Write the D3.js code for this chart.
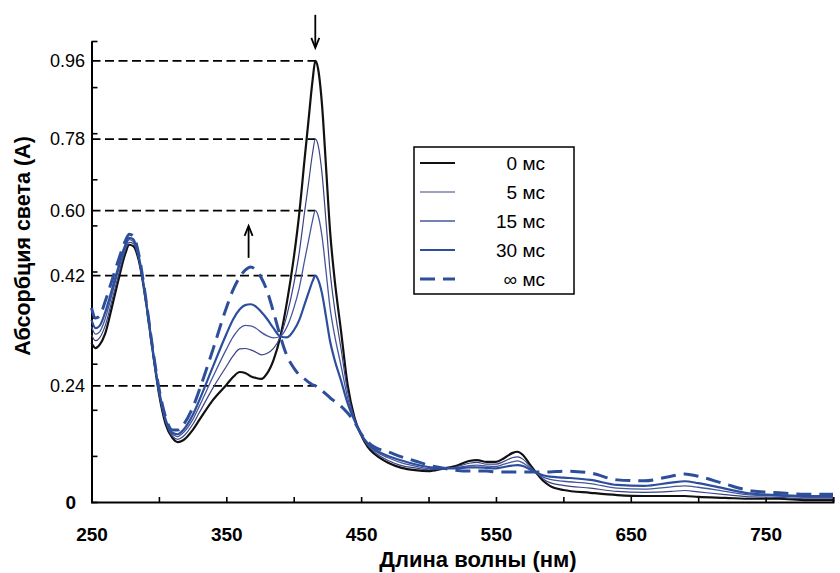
<!DOCTYPE html>
<html>
<head>
<meta charset="utf-8">
<script src="https://cdn.jsdelivr.net/npm/d3@7/dist/d3.min.js"></script>
<style>
  body { margin: 0; background: #fff; }
  svg { display: block; font-family: "Liberation Sans", Arial, Helvetica, sans-serif; }
</style>
</head>
<body>
<div id="chart"></div>
<script>
// wavelength grid (nm) and absorbance
var wavelengths = [250,253,256,260,265,270,275,278,281,285,290,295,300,305,310,314,318,325,330,340,
  350,355,360,364,368,372,376,380,385,390,395,400,404,408,411,414,416,418,421,424,
  427,430,435,440,445,450,455,460,470,480,490,500,510,520,530,536,543,550,556,562,
  566,570,575,580,585,590,600,620,640,660,680,690,700,720,740,760,780,800];

var abs0 = [.345,.334,.341,.364,.421,.482,.538,.558,.555,.525,.443,.336,.236,.169,.139,.130,.134,.156,.178,.221,
  .254,.271,.282,.280,.273,.269,.267,.278,.308,.358,.434,.529,.623,.742,.829,.915,.957,.941,.861,.725,
  .586,.492,.373,.254,.184,.145,.119,.104,.085,.074,.069,.067,.072,.078,.089,.091,.087,.087,.095,.106,
  .109,.102,.082,.063,.046,.035,.026,.020,.015,.013,.013,.013,.011,.009,.007,.007,.004,.004];

var abs5 = [.363,.350,.356,.381,.435,.492,.545,.563,.561,.528,.444,.337,.239,.173,.143,.136,.142,.168,.194,.247,
  .294,.317,.332,.333,.330,.325,.319,.322,.333,.358,.406,.472,.539,.628,.692,.757,.787,.775,.712,.607,
  .499,.427,.334,.239,.182,.146,.122,.108,.090,.079,.074,.070,.072,.076,.084,.086,.082,.082,.088,.096,
  .098,.093,.078,.063,.050,.042,.036,.030,.023,.021,.023,.025,.022,.016,.011,.010,.007,.007];

var abs15 = [.380,.364,.369,.396,.448,.502,.551,.569,.565,.531,.445,.338,.241,.176,.147,.142,.150,.178,.208,.271,
  .331,.358,.377,.383,.382,.377,.368,.361,.356,.359,.380,.420,.463,.523,.567,.611,.632,.622,.576,.499,
  .420,.367,.297,.226,.179,.146,.124,.111,.096,.085,.078,.073,.073,.074,.079,.080,.078,.077,.082,.087,
  .089,.085,.074,.064,.054,.049,.045,.040,.030,.028,.033,.035,.032,.023,.015,.013,.010,.010];

var abs30 = [.395,.377,.382,.410,.459,.510,.557,.573,.570,.534,.445,.339,.244,.179,.150,.147,.156,.188,.221,.293,
  .364,.396,.418,.427,.429,.424,.412,.398,.377,.359,.357,.372,.394,.428,.454,.479,.491,.483,.452,.401,
  .348,.312,.264,.214,.177,.147,.127,.114,.100,.090,.082,.076,.073,.073,.075,.075,.074,.073,.076,.079,
  .080,.078,.071,.064,.058,.055,.053,.048,.037,.035,.042,.045,.041,.029,.018,.015,.013,.013];

var absInf = [.421,.399,.403,.434,.479,.525,.566,.581,.577,.538,.447,.341,.247,.184,.156,.156,.167,.204,.243,.330,
  .421,.460,.488,.503,.510,.503,.486,.460,.412,.360,.317,.291,.276,.267,.260,.254,.252,.247,.241,.234,
  .226,.219,.208,.193,.174,.148,.130,.119,.109,.098,.089,.080,.074,.069,.067,.067,.067,.065,.065,.065,
  .065,.065,.065,.065,.065,.065,.067,.063,.048,.046,.056,.061,.056,.039,.024,.020,.017,.017];

var seriesNames = ["0 мс", "5 мс", "15 мс", "30 мс", "∞ мс"];
var peakLabels = ["0.96", "0.78", "0.60", "0.42", "0.24"];
var xTickLabels = [250, 350, 450, 550, 650, 750];

var allSeries = [abs0, abs5, abs15, abs30, absInf];

// line styles for each series
var styles = [
  {color: "#111111", width: 2.2, dash: null},
  {color: "#3a4283", width: 1.2, dash: null},
  {color: "#45579a", width: 1.3, dash: null},
  {color: "#2d4e9c", width: 2.2, dash: null},
  {color: "#2d4f9a", width: 3, dash: "15,8"}
];

var W = 840, H = 573;

var svg = d3.select("#chart").append("svg")
    .attr("width", W)
    .attr("height", H)
    .style("background-color", "white");

var x = d3.scaleLinear().domain([250, 800]).range([91.5, 833]);
var y = d3.scaleLinear().domain([0, 1]).range([502, 41]);

// x axis: ticks every 50 nm pointing inwards, labels every 100
svg.append("g")
    .attr("transform", "translate(0,502)")
    .call(d3.axisBottom(x)
      .tickValues(d3.range(250, 801, 50))
      .tickSize(-5)
      .tickPadding(26)
      .tickFormat(function(d) { return xTickLabels.indexOf(d) >= 0 ? d : ""; }))
    .call(function(g) {
      g.select(".domain").attr("stroke", "#000").attr("stroke-width", 2);
      g.selectAll(".tick line").attr("stroke", "#000").attr("stroke-width", 1.6);
      g.selectAll(".tick text")
        .attr("fill", "#000")
        .style("font-size", "19px")
        .style("font-weight", "bold")
        .style("font-family", "'Liberation Sans', Arial, sans-serif");
    });

// y axis: plain ticks every 0.1, no labels
svg.append("g")
    .attr("transform", "translate(91.5,0)")
    .call(d3.axisLeft(y)
      .tickValues(d3.range(0, 1.001, 0.1))
      .tickSize(-6)
      .tickSizeOuter(0)
      .tickFormat(""))
    .call(function(g) {
      g.select(".domain").attr("stroke", "#000").attr("stroke-width", 2);
      g.selectAll(".tick line").attr("stroke", "#000").attr("stroke-width", 1.6);
    });

// dashed reference lines at each series' peak
var peakIdx = d3.maxIndex(abs0);
var peakX = x(wavelengths[peakIdx]);

allSeries.forEach(function(s, i) {
  var yy = y(s[peakIdx]);
  svg.append("line")
    .attr("x1", x(250)).attr("x2", peakX)
    .attr("y1", yy).attr("y2", yy)
    .attr("stroke", "#000")
    .attr("stroke-width", 1.7)
    .attr("stroke-dasharray", "9,4.5");
  svg.append("text")
    .attr("x", 85)
    .attr("y", yy)
    .attr("text-anchor", "end")
    .attr("dominant-baseline", "central")
    .style("font-size", "18px")
    .text(peakLabels[i]);
});

svg.append("text")
  .attr("x", 76)
  .attr("y", y(0))
  .attr("text-anchor", "end")
  .attr("dominant-baseline", "central")
  .style("font-size", "19px")
  .style("font-weight", "bold")
  .text("0");

// spectra
var line = d3.line()
    .x(function(d) { return x(d[0]); })
    .y(function(d) { return y(d[1]); })
    .curve(d3.curveMonotoneX);

allSeries.forEach(function(s, i) {
  svg.append("path")
    .datum(wavelengths.map(function(w, j) { return [w, s[j]]; }))
    .attr("fill", "none")
    .attr("stroke", styles[i].color)
    .attr("stroke-width", styles[i].width)
    .attr("stroke-dasharray", styles[i].dash)
    .attr("stroke-linejoin", "round")
    .attr("d", line);
});

// arrows
function arrow(x0, yFrom, yTo) {
  svg.append("line")
    .attr("x1", x0).attr("x2", x0)
    .attr("y1", yFrom).attr("y2", yTo)
    .attr("stroke", "#000").attr("stroke-width", 1.8);
  var dir = yTo > yFrom ? 1 : -1;
  svg.append("path")
    .attr("d", "M" + (x0 - 4) + "," + (yTo - dir * 9) + "L" + x0 + "," + (yTo + dir * 1) + "L" + (x0 + 4) + "," + (yTo - dir * 9))
    .attr("fill", "none")
    .attr("stroke", "#000")
    .attr("stroke-width", 1.8);
}
arrow(peakX, y(abs0[peakIdx]) - 46, y(abs0[peakIdx]) - 14);
// the raised band of the final spectrum near 368 nm
var bandStart = wavelengths.indexOf(340);
var bandIdx = bandStart + d3.maxIndex(absInf.slice(bandStart, wavelengths.indexOf(400)));
arrow(x(wavelengths[bandIdx]) - 2, y(absInf[bandIdx]) - 9, y(absInf[bandIdx]) - 40);

// legend
var legend = svg.append("g").attr("transform", "translate(414,147)");
legend.append("rect")
  .attr("width", 160).attr("height", 147)
  .attr("fill", "white")
  .attr("stroke", "#000").attr("stroke-width", 1.5);

seriesNames.forEach(function(name, i) {
  var ly = 16 + i * 29;
  legend.append("line")
    .attr("x1", 6).attr("x2", 41)
    .attr("y1", ly).attr("y2", ly)
    .attr("stroke", styles[i].color)
    .attr("stroke-width", styles[i].width)
    .attr("stroke-dasharray", styles[i].dash);
  legend.append("text")
    .attr("x", 131)
    .attr("y", ly)
    .attr("text-anchor", "end")
    .attr("dominant-baseline", "central")
    .style("font-size", "19px")
    .text(name);
});

// axis titles
svg.append("text")
  .attr("x", 478)
  .attr("y", 567)
  .attr("text-anchor", "middle")
  .style("font-size", "22px")
  .style("font-weight", "bold")
  .text("Длина волны (нм)");

svg.append("text")
  .attr("transform", "translate(30,246) rotate(-90)")
  .attr("text-anchor", "middle")
  .style("font-size", "21.5px")
  .style("font-weight", "bold")
  .text("Абсорбция света (А)");
</script>
</body>
</html>
